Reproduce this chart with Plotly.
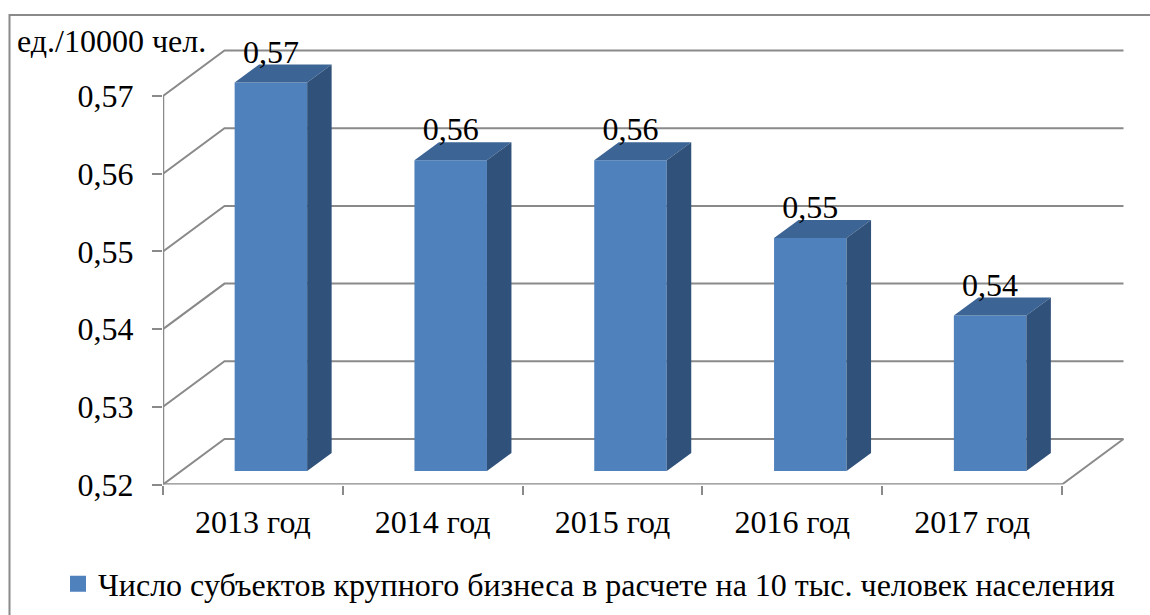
import plotly.graph_objects as go

categories = ["2013 год", "2014 год", "2015 год", "2016 год", "2017 год"]
values = [0.57, 0.56, 0.56, 0.55, 0.54]
tick_values = [0.52, 0.53, 0.54, 0.55, 0.56, 0.57]
series_name = "Число субъектов крупного бизнеса в расчете на 10 тыс. человек населения"
unit_label = "ед./10000 чел."

W, H = 1150, 615
PX_LEFT, PX_RIGHT, PX_TOP, PX_BOTTOM = 163, 1125, 20, 484.5
PX_PER_CAT = 179.8
PX_PER_UNIT = 7770.0
FONT = "Liberation Serif"
GRID = "#8a8a8a"
FRONT, TOP, SIDE = "#4F81BD", "#3C6494", "#30517A"
SIZE = 32

base = tick_values[0]
n = len(categories)
x_range = [0, (PX_RIGHT - PX_LEFT) / PX_PER_CAT]
y_range = [base, base + (PX_BOTTOM - PX_TOP) / PX_PER_UNIT]
# depth of the floor, and of the bars, in data units
floor_dx, floor_dy = 61.5 / PX_PER_CAT, 45.5 / PX_PER_UNIT
bar_dx, bar_dy = 24.5 / PX_PER_CAT, 18.0 / PX_PER_UNIT
shift_x, shift_y = 18.0 / PX_PER_CAT, 13.5 / PX_PER_UNIT
bar_w = 72.5 / PX_PER_CAT
label_drop = 6.0 / PX_PER_UNIT

fig = go.Figure()

# walls and floor
gx, gy = [], []
for v in tick_values:
    gx += [0, floor_dx, n + floor_dx, None]
    gy += [v, v + floor_dy, v + floor_dy, None]
gx += [n, n + floor_dx, None]
gy += [base, base + floor_dy, None]
fig.add_trace(go.Scatter(x=gx, y=gy, mode="lines", line=dict(color=GRID, width=2),
                         showlegend=False, hoverinfo="skip", cliponaxis=False, zorder=0))
# front axis lines
fig.add_trace(go.Scatter(x=[0, 0, None, 0, n], y=[tick_values[-1], base, None, base, base], mode="lines",
                         line=dict(color=GRID, width=2.5), showlegend=False, hoverinfo="skip",
                         cliponaxis=False, zorder=1))

centers = [i + 0.5 + shift_x for i in range(n)]
fig.add_trace(go.Bar(x=centers, y=[v - base for v in values], base=base + shift_y, width=bar_w,
                     marker=dict(color=FRONT, line=dict(width=0)), showlegend=False,
                     hoverinfo="skip", cliponaxis=False, zorder=2))

for c, v in zip(centers, values):
    l, r = c - bar_w / 2, c + bar_w / 2
    t = v + shift_y
    b = base + shift_y
    fig.add_trace(go.Scatter(x=[l, r, r + bar_dx, l + bar_dx, l], y=[t, t, t + bar_dy, t + bar_dy, t],
                             mode="lines", fill="toself", fillcolor=TOP, line=dict(width=0, color=TOP),
                             showlegend=False, hoverinfo="skip", cliponaxis=False, zorder=3))
    fig.add_trace(go.Scatter(x=[r, r + bar_dx, r + bar_dx, r, r], y=[t, t + bar_dy, b + bar_dy, b, t],
                             mode="lines", fill="toself", fillcolor=SIDE, line=dict(width=0, color=SIDE),
                             showlegend=False, hoverinfo="skip", cliponaxis=False, zorder=3))

fig.add_trace(go.Scatter(x=centers, y=[v + shift_y + bar_dy - label_drop for v in values], mode="text",
                         text=[f"{v:.2f}".replace(".", ",") for v in values],
                         textposition="top center", textfont=dict(family=FONT, size=SIZE, color="black"),
                         showlegend=False, hoverinfo="skip", cliponaxis=False, zorder=4))

# legend entry
fig.add_trace(go.Scatter(x=[None], y=[None], mode="markers", name=series_name,
                         marker=dict(symbol="square", size=16, color=FRONT), showlegend=True))

fig.update_layout(
    width=W, height=H, autosize=False,
    margin=dict(l=0, r=0, t=0, b=0),
    paper_bgcolor="white", plot_bgcolor="rgba(0,0,0,0)",
    separators=", ",
    font=dict(family=FONT, size=SIZE, color="black"),
    xaxis=dict(domain=[PX_LEFT / W, PX_RIGHT / W], range=x_range, showgrid=False, zeroline=False,
               showline=False, tickmode="array", tickvals=[i + 0.5 for i in range(n)],
               ticktext=categories, ticks="", ticklabelstandoff=15,
               minor=dict(tickmode="array", tickvals=list(range(n + 1)), ticks="outside",
                          ticklen=9, tickwidth=2, tickcolor=GRID, showgrid=False),
               tickfont=dict(family=FONT, size=SIZE, color="black"), automargin=False),
    yaxis=dict(domain=[1 - PX_BOTTOM / H, 1 - PX_TOP / H], range=y_range, showgrid=False, zeroline=False,
               showline=False, tickmode="array", tickvals=tick_values, tickformat=".2f",
               ticks="outside", ticklen=10, tickwidth=2, tickcolor=GRID, ticklabelstandoff=12,
               tickfont=dict(family=FONT, size=SIZE, color="black"), automargin=False),
    legend=dict(x=58 / W, y=1 - 584 / H, xanchor="left", yanchor="middle",
                bgcolor="rgba(0,0,0,0)",
                font=dict(family=FONT, size=SIZE, color="black"), borderwidth=0),
    annotations=[dict(text=unit_label, xref="paper", yref="paper", x=15 / W, y=1 - 41 / H,
                      xanchor="left", yanchor="middle", showarrow=False,
                      font=dict(family=FONT, size=SIZE, color="black"))],
    shapes=[dict(type="rect", xref="paper", yref="paper", x0=9.5 / W, x1=1.1, y0=-0.1,
                 y1=1 - 15 / H,
                 line=dict(color=GRID, width=2), fillcolor="rgba(0,0,0,0)", layer="below")],
    showlegend=True,
)

fig.write_html("out.html", config={"displayModeBar": False},
               post_script="document.body.style.margin='0';document.documentElement.style.overflow='hidden';")
